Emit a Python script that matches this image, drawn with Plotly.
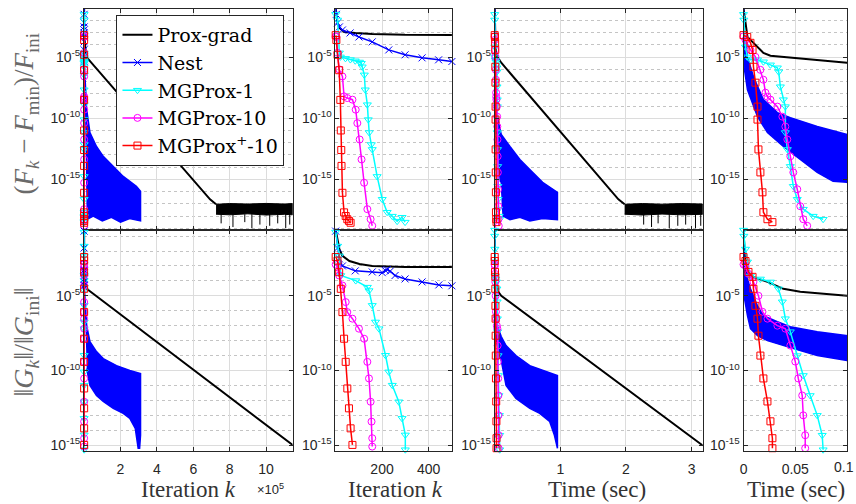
import plotly.graph_objects as go

# ---------------- DATA (log10 values) ----------------
# Row 1: (F_k - F_min)/F_ini      Row 2: ||G_k|| / ||G_ini||

# ---- Prox-grad, by iteration ----
prox_k = [1, 9, 17, 38, 85, 158, 299, 500, 12000, 692000, 725000]
prox_k_F = [-0.98, -2.2, -2.61, -2.94, -3.02, -3.10, -3.18, -3.26, -4.98, -16.63, -17.04]
prox_band_k = [725000, 800000, 900000, 1000000, 1100000, 1146000]
prox_band_k_hi = [-17.04, -16.98, -17.02, -16.97, -17.02, -16.98]
prox_band_k_lo = [-17.85, -17.9, -17.82, -17.92, -17.86, -17.9]
prox_spike_k = [753000, 818000, 883000, 922000, 966000, 1020000, 1064000, 1108000, 1130000]
prox_spike_k_F = [-18.6, -18.9, -18.5, -19.0, -18.7, -18.8, -18.6, -19.0, -18.7]
prox_kG = [1, 17, 30, 60, 103, 158, 299, 500, 14000, 1146000]
prox_kG_G = [-0.6, -1.87, -2.33, -2.67, -2.87, -3.0, -3.07, -3.2, -4.53, -14.98]

# ---- Prox-grad, by time ----
prox_t = [0, 0.0019, 0.0038, 0.0067, 0.0135, 0.0192, 0.026, 0.0385, 0.0712, 0.1, 1.885, 1.98]
prox_t_F = [-0.98, -2.2, -3.35, -3.59, -4.16, -4.65, -4.89, -4.98, -5.22, -5.46, -16.63, -17.04]
prox_band_t = [1.98, 2.25, 2.55, 2.85, 3.17]
prox_band_t_hi = [-17.04, -16.98, -17.03, -16.98, -17.02]
prox_band_t_lo = [-17.85, -17.92, -17.84, -17.9, -17.86]
prox_spike_t = [2.27, 2.39, 2.49, 2.66, 2.79, 2.91, 3.06, 3.14]
prox_spike_t_F = [-18.7, -18.9, -18.6, -19.0, -18.8, -18.7, -19.0, -18.8]
prox_tG = [0, 0.0005, 0.002, 0.0067, 0.0231, 0.0385, 0.0548, 0.1, 3.17]
prox_tG_G = [-0.6, -1.5, -3.4, -3.67, -4.07, -4.53, -4.73, -5.0, -15.02]

# ---- Nest, by iteration (early part, markers) ----
nest_k = [1, 4, 9, 17, 30, 63, 101, 158, 229, 299, 372, 443, 500]
nest_k_F = [-1.0, -1.5, -2.2, -2.53, -2.78, -3.02, -3.35, -3.75, -4.41, -4.81, -5.06, -5.22, -5.36]
nest_kG = [1, 9, 17, 30, 85, 158, 201, 214, 222, 235, 256, 299, 372, 444, 500]
nest_kG_G = [-0.67, -1.8, -2.53, -3.0, -3.33, -3.4, -3.45, -3.3, -3.25, -3.35, -3.64, -3.87, -4.07, -4.27, -4.33]
# ---- Nest oscillation band, by iteration (upper / lower envelopes) ----
nest_envF_k_hi = [500, 14000, 32000, 68000, 105000, 160000, 215000, 287000, 310000]
nest_envF_hi = [-5.36, -9.30, -11.17, -12.31, -13.12, -13.94, -14.76, -15.57, -15.98]
nest_envF_k_lo = [14000, 50000, 100000, 150000, 200000, 250000, 310000]
nest_envF_lo = [-18.3, -18.0, -18.4, -18.1, -18.5, -18.2, -18.4]
nest_envG_k_hi = [500, 14000, 32000, 68000, 105000, 178000, 251000, 310000]
nest_envG_hi = [-4.33, -7.0, -8.07, -8.73, -9.2, -9.67, -10.0, -10.2]
nest_envG_k_lo = [14000, 32000, 68000, 105000, 160000, 215000, 251000, 281000, 287000, 297000, 305000, 310000]
nest_envG_lo = [-9.87, -11.0, -11.67, -12.07, -12.53, -12.87, -13.2, -13.87, -14.53, -15.2, -15.2, -14.33]
# ---- Nest oscillation band, by time ----
nest_envF_t_hi = [0, 0.0005, 0.0038, 0.0096, 0.0192, 0.0327, 0.0452, 0.0712, 0.1, 0.233, 0.384, 0.535, 0.73, 0.956]
nest_envF_t_hi_v = [-1.0, -3.02, -4.98, -6.61, -8.48, -9.54, -9.95, -10.68, -11.33, -12.31, -13.37, -14.19, -15.24, -16.06]
nest_envF_t_lo = [0, 0.0005, 0.0038, 0.0135, 0.0231, 0.0385, 0.0548, 0.0712, 0.0865, 0.1, 0.128, 0.233, 0.384, 0.535, 0.73, 0.956]
nest_envF_t_lo_v = [-1.0, -5.79, -7.67, -9.87, -11.17, -12.31, -13.37, -14.43, -15.16, -15.24, -18.0, -18.3, -18.1, -18.4, -18.2, -18.3]
nest_envG_t_hi = [0, 0.0005, 0.0038, 0.0067, 0.0135, 0.0192, 0.0327, 0.0452, 0.0712, 0.1, 0.173, 0.324, 0.535, 0.776, 0.956]
nest_envG_t_hi_v = [-0.6, -2.73, -3.87, -4.53, -5.67, -6.33, -6.73, -7.07, -7.4, -7.73, -8.33, -9.0, -9.67, -10.07, -10.33]
nest_envG_t_lo = [0, 0.0005, 0.0038, 0.0067, 0.0135, 0.0231, 0.0385, 0.0548, 0.0712, 0.1, 0.173, 0.324, 0.535, 0.686, 0.836, 0.91, 0.956]
nest_envG_t_lo_v = [-0.6, -5.0, -6.33, -7.2, -7.67, -8.0, -8.33, -8.67, -9.0, -9.33, -11.0, -11.87, -12.53, -12.87, -13.4, -14.33, -15.2]

# ---- MGProx-1 ----
mg1_k = [1, 9, 17, 21, 43, 64, 85, 103, 111, 115, 124, 128, 137, 141, 145, 154, 158, 179, 201, 222, 244, 265, 286, 299]
mg1_k_F = [-1.5, -1.96, -4.65, -4.98, -5.1, -5.2, -5.3, -5.4, -5.5, -5.79, -6.45, -7.67, -8.89, -10.11, -11.17,
           -12.15, -12.55, -14.76, -16.63, -17.69, -18.01, -18.42, -18.1, -18.5]
mg1_kG = [1, 9, 17, 23, 87, 137, 144, 158, 172, 187, 215, 229, 244, 272, 286, 300, 300]
mg1_kG_G = [-0.73, -1.67, -2.33, -3.64, -3.98, -4.42, -4.65, -5.64, -6.75, -7.2, -8.98, -10.09, -10.98, -12.09,
            -13.2, -14.31, -15.3]
mg1_t = [0, 0.0003, 0.0019, 0.0036, 0.0067, 0.0135, 0.0192, 0.026, 0.0327, 0.034, 0.0356, 0.0385, 0.0404, 0.0404,
         0.0423, 0.0452, 0.0481, 0.0519, 0.0577, 0.0673, 0.0769]
mg1_t_F = [-1.5, -1.96, -4.16, -4.98, -5.22, -5.22, -5.38, -5.63, -5.87, -6.2, -7.42, -8.48, -9.05, -11.17,
           -12.55, -13.94, -15.57, -16.63, -17.44, -18.01, -18.26]
mg1_tG = [0, 0.0003, 0.0019, 0.0038, 0.0067, 0.0163, 0.026, 0.0337, 0.0375, 0.0404, 0.0452, 0.0519, 0.0577,
          0.0644, 0.0712, 0.076, 0.0769]
mg1_tG_G = [-0.6, -1.0, -1.87, -2.73, -3.67, -3.87, -4.07, -4.53, -5.4, -6.53, -7.4, -9.0, -10.33, -11.67,
            -13.0, -14.33, -15.3]

# ---- MGProx-10 ----
mg10_k = [1, 4, 9, 16, 30, 37, 51, 73, 87, 94, 104, 112, 123, 137, 151, 158]
mg10_k_F = [-3.3, -3.35, -4.65, -6.0, -6.58, -8.21, -8.35, -8.48, -9.30, -10.4, -11.74, -13.37, -15.28, -17.44,
            -18.26, -18.8]
mg10_kG = [1, 9, 16, 30, 44, 51, 73, 101, 123, 137, 144, 151, 155, 158, 158]
mg10_kG_G = [-2.9, -3.09, -3.64, -4.31, -5.42, -6.09, -6.53, -7.2, -7.87, -9.42, -10.53, -12.09, -13.42, -14.53,
             -15.09]
mg10_t = [0, 0.0019, 0.0067, 0.0115, 0.0163, 0.0192, 0.0212, 0.0231, 0.026, 0.0327, 0.0375, 0.0404, 0.0423,
          0.0452, 0.0481, 0.0519, 0.0548, 0.0577, 0.0615]
mg10_t_F = [-3.3, -3.59, -4.41, -4.98, -6.04, -6.85, -7.91, -8.24, -8.48, -9.05, -9.87, -10.68, -11.74, -13.12,
            -14.43, -15.81, -17.2, -18.26, -18.8]
mg10_tG = [0, 0.0019, 0.0048, 0.0096, 0.0144, 0.0183, 0.0231, 0.0327, 0.0404, 0.0452, 0.050, 0.0529, 0.0567,
           0.0577, 0.0596, 0.0596]
mg10_tG_G = [-2.9, -3.0, -3.53, -4.07, -5.0, -6.07, -6.53, -7.0, -7.2, -8.33, -9.4, -10.53, -11.67, -13.0,
             -14.33, -15.2]

# ---- MGProx+-10 ----
mgp_k = [1, 4, 9, 16, 21, 23, 25, 26, 30, 37, 44, 51, 58, 65]
mgp_k_F = [-3.2, -3.6, -4.81, -6.07, -8.5, -11.0, -12.6, -13.9, -16.1, -17.7, -18.0, -18.26, -18.4, -18.55]
mgp_kG = [1, 9, 16, 23, 30, 37, 44, 51, 58, 65, 73]
mgp_kG_G = [-2.4, -2.64, -3.42, -4.53, -6.09, -7.87, -9.42, -11.2, -12.53, -13.87, -14.98]
mgp_t = [0, 0.0036, 0.0067, 0.0087, 0.0096, 0.0115, 0.0135, 0.0135, 0.0144, 0.0163, 0.0183, 0.0192, 0.0231, 0.0279]
mgp_t_F = [-3.2, -3.35, -3.83, -4.41, -5.79, -7.09, -9.05, -10.11, -12.55, -14.43, -16.06, -17.69, -18.26, -18.5]
mgp_tG = [0, 0.0019, 0.0048, 0.0087, 0.0096, 0.0115, 0.0135, 0.0144, 0.0163, 0.0192, 0.0231, 0.026, 0.0279, 0.0279]
mgp_tG_G = [-2.4, -2.67, -3.4, -3.73, -4.53, -5.67, -6.53, -7.67, -9.0, -10.53, -12.07, -13.4, -14.53, -15.2]

names = ["Prox-grad", "Nest", "MGProx-1", "MGProx-10", "MGProx<sup>+</sup>-10"]
x_ticks = {1: [2e5, 4e5, 6e5, 8e5, 1e6], 2: [200, 400], 3: [1, 2, 3], 4: [0, 0.05, 0.1]}
x_ticktext = {1: ["2", "4", "6", "8", "10"], 2: ["200", "400"], 3: ["1", "2", "3"], 4: ["0", "0.05", ""]}
last_tick_label = "0.1"   # drawn separately: it sits on the page edge
y_ticks = [1e-15, 1e-10, 1e-5]
y_ticktext = ["10<sup>-15</sup>", "10<sup>-10</sup>", "10<sup>-5</sup>"]

# ---------------- LAYOUT / STYLE ----------------
W, H = 856, 504
XPIX = {1: (80.5, 290), 2: (333, 450), 3: (493, 702), 4: (743, 847)}
YPIX = {1: (9, 231), 2: (231, 453)}
XR = {1: [0, 1146000], 2: [0, 500], 3: [0, 3.17], 4: [0, 0.1]}
YR = {1: [-19.15, -1.06], 2: [-15.4, -0.6]}

BLUE, CYAN, MAG, RED, BLK = "#0000ff", "#00ffff", "#ff00ff", "#ff0000", "#000000"
AX = "#262626"


def pw(a):
    return [10 ** v for v in a]


fig = go.Figure()


def axn(n, a):
    return a if n == 1 else f"{a}{n}"


def add(n, **kw):
    kw.setdefault("hoverinfo", "skip")
    fig.add_trace(go.Scatter(xaxis=axn(n, "x"), yaxis=axn(n, "y"), **kw))


def marker_trace(n, x, y, color, symbol, name, show):
    add(n, x=x, y=pw(y), mode="lines+markers", cliponaxis=False,
        line=dict(color=color, width=1.5),
        marker=dict(symbol=symbol, size=7, color=color, line=dict(color=color, width=1)),
        name=name, legendgroup=name, showlegend=show)


for r in (1, 2):
    for c in (1, 2, 3, 4):
        n = (r - 1) * 4 + c
        it = c in (1, 2)
        show = (n == 2)
        # --- Prox-grad ---
        if r == 1:
            px, py = (prox_k, prox_k_F) if it else (prox_t, prox_t_F)
            bx, bh, bl = (prox_band_k, prox_band_k_hi, prox_band_k_lo) if it else (prox_band_t, prox_band_t_hi, prox_band_t_lo)
            sx, sy = (prox_spike_k, prox_spike_k_F) if it else (prox_spike_t, prox_spike_t_F)
            add(n, x=bx + bx[::-1], y=pw(bh + bl[::-1]), mode="lines", fill="toself", fillcolor=BLK,
                line=dict(color=BLK, width=1), showlegend=False)
            xs, ys = [], []
            for a, b in zip(sx, sy):
                xs += [a, a, None]
                ys += [10 ** bl[0], 10 ** b, None]
            add(n, x=xs, y=ys, mode="lines", line=dict(color=BLK, width=1), showlegend=False)
        else:
            px, py = (prox_kG, prox_kG_G) if it else (prox_tG, prox_tG_G)
        add(n, x=px, y=pw(py), mode="lines", line=dict(color=BLK, width=2),
            name=names[0], legendgroup=names[0], showlegend=show)

        # --- Nest ---
        if it:
            if r == 1:
                hx, hv, lx, lv = nest_envF_k_hi, nest_envF_hi, nest_envF_k_lo, nest_envF_lo
            else:
                hx, hv, lx, lv = nest_envG_k_hi, nest_envG_hi, nest_envG_k_lo, nest_envG_lo
        else:
            if r == 1:
                hx, hv, lx, lv = nest_envF_t_hi, nest_envF_t_hi_v, nest_envF_t_lo, nest_envF_t_lo_v
            else:
                hx, hv, lx, lv = nest_envG_t_hi, nest_envG_t_hi_v, nest_envG_t_lo, nest_envG_t_lo_v
        add(n, x=hx + lx[::-1], y=pw(hv + lv[::-1]), mode="lines", fill="toself", fillcolor=BLUE,
            line=dict(color=BLUE, width=1.5), showlegend=False)
        if it:
            nx, ny = (nest_k, nest_k_F) if r == 1 else (nest_kG, nest_kG_G)
            marker_trace(n, nx, ny, BLUE, "x-thin", names[1], show)

        # --- MGProx series ---
        if it:
            s1 = (mg1_k, mg1_k_F) if r == 1 else (mg1_kG, mg1_kG_G)
            s2 = (mg10_k, mg10_k_F) if r == 1 else (mg10_kG, mg10_kG_G)
            s3 = (mgp_k, mgp_k_F) if r == 1 else (mgp_kG, mgp_kG_G)
        else:
            s1 = (mg1_t, mg1_t_F) if r == 1 else (mg1_tG, mg1_tG_G)
            s2 = (mg10_t, mg10_t_F) if r == 1 else (mg10_tG, mg10_tG_G)
            s3 = (mgp_t, mgp_t_F) if r == 1 else (mgp_tG, mgp_tG_G)
        marker_trace(n, s1[0], s1[1], CYAN, "triangle-down-open", names[2], show)
        marker_trace(n, s2[0], s2[1], MAG, "circle-open", names[3], show)
        marker_trace(n, s3[0], s3[1], RED, "square-open", names[4], show)

        # --- axes ---
        xa = dict(domain=[XPIX[c][0] / W, XPIX[c][1] / W], anchor=axn(n, "y"), range=XR[c],
                  tickvals=x_ticks[c], ticktext=x_ticktext[c], showticklabels=(r == 2),
                  ticks="inside", ticklen=4, tickcolor=AX, showline=True, mirror="ticks",
                  linecolor=AX, linewidth=1, showgrid=True, gridcolor="#dcdcdc", gridwidth=1,
                  zeroline=False, ticklabelstandoff=5,
                  tickfont=dict(family="Liberation Sans", size=14, color=AX))
        minor_vals = [10.0 ** (-e) for e in range(1, 20) if e % 5 != 0]
        ya = dict(domain=[1 - YPIX[r][1] / H, 1 - YPIX[r][0] / H], anchor=axn(n, "x"), type="log",
                  range=YR[r], tickvals=y_ticks, ticktext=y_ticktext,
                  ticks="inside", ticklen=4, tickcolor=AX, showline=True, mirror="ticks",
                  linecolor=AX, linewidth=1, showgrid=True, gridcolor="#dcdcdc", gridwidth=1,
                  zeroline=False, tickfont=dict(family="Liberation Sans", size=14, color=AX),
                  minor=dict(tickvals=minor_vals, showgrid=True, gridcolor="#c4c4c4",
                             griddash="dot", ticks=""))
        fig.layout[axn(n, "xaxis")] = xa
        fig.layout[axn(n, "yaxis")] = ya

serif = "Liberation Serif"
ann = []
# x titles
for cx, txt in [(185, "Iteration <i>k</i>"), (393, "Iteration <i>k</i>"), (596, "Time (sec)"), (796, "Time (sec)")]:
    ann.append(dict(x=cx / W, y=1 - 491 / H, xref="paper", yref="paper", text=txt, showarrow=False,
                    xanchor="center", yanchor="middle", font=dict(family=serif, size=23, color="#333333")))
ann.append(dict(x=268 / W, y=1 - 491 / H, xref="paper", yref="paper", text="×10<sup>5</sup>", showarrow=False,
                xanchor="center", yanchor="middle", font=dict(family="Liberation Sans", size=13, color=AX)))
ann.append(dict(x=1, y=1 - 469 / H, xref="paper", yref="paper", text=last_tick_label, showarrow=False,
                xanchor="right", yanchor="middle", font=dict(family="Liberation Sans", size=14, color=AX)))
# y titles
ann.append(dict(x=22 / W, y=1 - 114 / H, xref="paper", yref="paper", textangle=-90, showarrow=False,
                text="(<i>F<sub>k</sub></i> − <i>F</i><sub>min</sub>)/<i>F</i><sub>ini</sub>",
                xanchor="center", yanchor="middle", font=dict(family=serif, size=27, color="#6a6a6a")))
ann.append(dict(x=22 / W, y=1 - 343 / H, xref="paper", yref="paper", textangle=-90, showarrow=False,
                text="‖<i>G<sub>k</sub></i>‖/‖<i>G</i><sub>ini</sub>‖",
                xanchor="center", yanchor="middle", font=dict(family=serif, size=28, color="#6a6a6a")))

fig.update_layout(
    width=W, height=H, margin=dict(l=0, r=0, t=0, b=0),
    paper_bgcolor="white", plot_bgcolor="white",
    annotations=ann,
    legend=dict(x=113 / W, y=1 - 15 / H, xanchor="left", yanchor="top", bgcolor="white",
                bordercolor=AX, borderwidth=1, font=dict(family="DejaVu Serif", size=19, color="black"),
                tracegroupgap=0),
)

fig.write_html("out.html", config={"displayModeBar": False},
               post_script="document.body.style.margin='0';document.body.style.overflow='hidden';")
